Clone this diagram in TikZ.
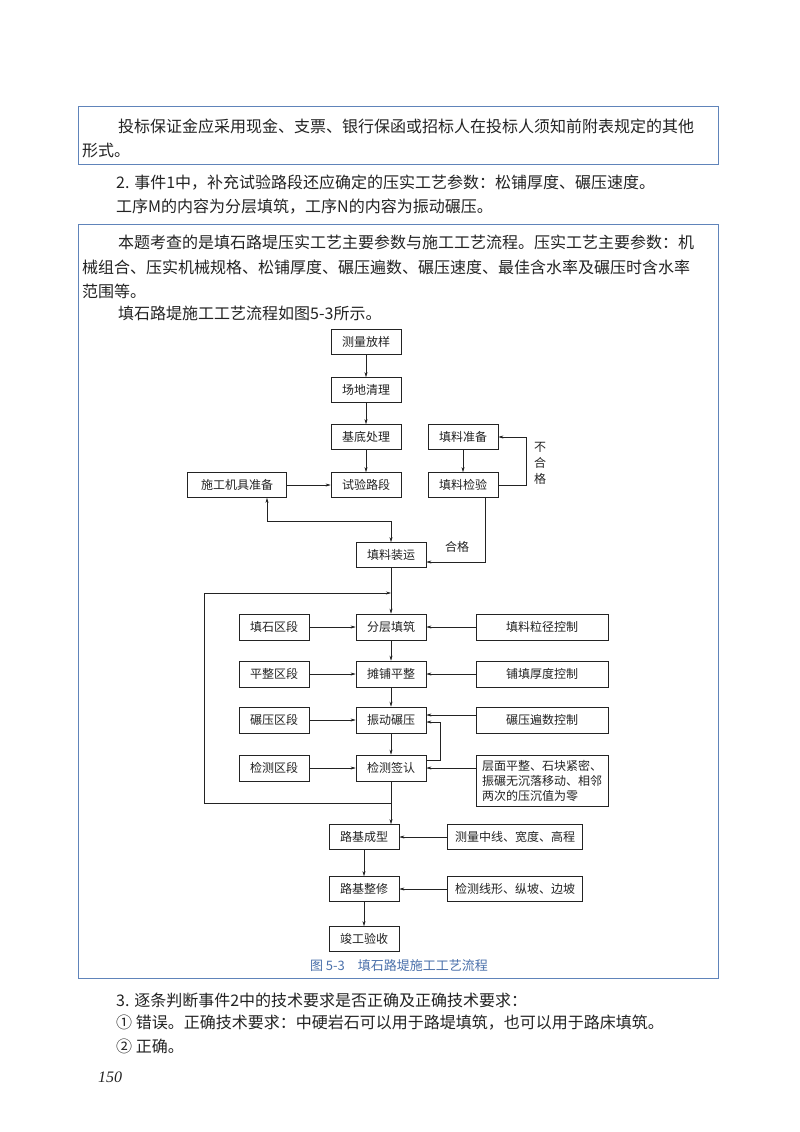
\documentclass[tikz,border=0pt]{standalone}
\usepackage{fontspec}
\setmainfont{Noto Sans CJK SC}
\newfontfamily\numfont{Liberation Serif}
\usetikzlibrary{arrows.meta}
\XeTeXlinebreaklocale "zh"
\XeTeXlinebreakskip = 0pt plus 2pt
\definecolor{frameblue}{RGB}{96,132,186}
\definecolor{capblue}{RGB}{74,112,170}
\definecolor{ink}{RGB}{35,35,35}
\newcommand{\jline}[2]{\makebox[#1][s]{#2}}

\begin{document}
\begin{tikzpicture}[
            x = 1pt, y = -1pt,
            textline/.style = {anchor = west, inner sep = 0pt, text = ink, font = \fontsize{16}{20}\selectfont},
            stepbox/.style = {draw = ink, line width = 0.7pt, minimum width = 70pt, minimum height = 25pt,
                              inner sep = 1pt, text = ink, font = \fontsize{12}{14}\selectfont},
            widebox/.style = {stepbox, minimum width = 132pt},
            flowarrow/.style = {draw = ink, line width = 0.5pt, -{Stealth[length = 5pt, width = 3pt]}},
            bluebox/.style = {draw = frameblue, line width = 0.9pt}
            ]
            \fill[white, use as bounding box] (0,0) rectangle (800,1132);
            % frames of the page
            \draw[bluebox] (78,106) rectangle (718,164);
            \draw[bluebox] (78,224) rectangle (718,978);
            % text of the page
            \node[textline] (t1) at (118,126) {\jline{594pt}{投标保证金应采用现金、支票、银行保函或招标人在投标人须知前附表规定的其他}};
            \node[textline] (t2) at (82,150) {形式。};
            \node[textline] (t3) at (116,183) {2. 事件1中，补充试验路段还应确定的压实工艺参数：松铺厚度、碾压速度。};
            \node[textline] (t4) at (116,207) {工序M的内容为分层填筑，工序N的内容为振动碾压。};
            \node[textline] (t5) at (118,242) {\jline{594pt}{本题考查的是填石路堤压实工艺主要参数与施工工艺流程。压实工艺主要参数：机}};
            \node[textline] (t6) at (82,267) {\jline{630pt}{械组合、压实机械规格、松铺厚度、碾压遍数、碾压速度、最佳含水率及碾压时含水率}};
            \node[textline] (t7) at (82,291) {范围等。};
            \node[textline] (t8) at (118,313) {填石路堤施工工艺流程如图5-3所示。};
            \node[textline] (b1) at (116,1000) {3. 逐条判断事件2中的技术要求是否正确及正确技术要求：};
            \node[textline] (b2) at (116,1023) {① 错误。正确技术要求：中硬岩石可以用于路堤填筑，也可以用于路床填筑。};
            \node[textline] (b3) at (116,1046) {② 正确。};
            \node[textline, font = \numfont\itshape\fontsize{16}{20}\selectfont] (pg) at (98,1077) {150};
            % upper part of the flow
            \node[stepbox] (clfy) at (366,342) {测量放样};
            \node[stepbox] (cdql) at (366,390) {场地清理};
            \node[stepbox] (jdcl) at (366,437) {基底处理};
            \node[stepbox] (syld) at (366,485) {试验路段};
            \node[stepbox, minimum width = 99pt] (jjzb) at (237,485) {施工机具准备};
            \node[stepbox] (tlzb) at (463,437) {填料准备};
            \node[stepbox] (tljy) at (463,485) {填料检验};
            \node[stepbox] (tlzy) at (391,555) {填料装运};
            \node[text = ink, align = center, font = \fontsize{12}{16}\selectfont] (bhg) at (540,463) {不\\合\\格};
            \node[text = ink, font = \fontsize{12}{14}\selectfont] (hg) at (457,547) {合格};
            \coordinate (fz) at (391,521);
            \draw[flowarrow] (clfy) -- (cdql);
            \draw[flowarrow] (cdql) -- (jdcl);
            \draw[flowarrow] (jdcl) -- (syld);
            \draw[flowarrow] (jjzb) -- (syld);
            \draw[flowarrow] (tlzb) -- (tljy);
            \draw[flowarrow] (tljy.east) -- ++(28,0) |- (tlzb.east);
            \draw[flowarrow] ([xshift = 22pt]tljy.south) |- ([yshift = -7pt]tlzy.east);
            \draw[flowarrow] (fz) -| ([xshift = 30pt]jjzb.south);
            \draw[flowarrow] (fz) -- (tlzy);
            % layered filling
            \node[stepbox, minimum height = 26pt] (fctz) at (391,627) {分层填筑};
            \node[stepbox, minimum height = 26pt] (tppz) at (391,674) {摊铺平整};
            \node[stepbox, minimum height = 26pt] (zdny) at (391,720) {振动碾压};
            \node[stepbox, minimum height = 26pt] (jcqr) at (391,768) {检测签认};
            \foreach \name/\txt/\y in {qd1/填石区段/627, qd2/平整区段/674, qd3/碾压区段/720, qd4/检测区段/768}
                \node[stepbox, minimum height = 26pt] (\name) at (274,\y) {\txt};
            \foreach \name/\txt/\y in {kz1/填料粒径控制/627, kz2/铺填厚度控制/674, kz3/碾压遍数控制/720}
                \node[widebox, minimum height = 26pt] (\name) at (542,\y) {\txt};
            \node[widebox, minimum height = 51pt, align = left, font = \fontsize{12}{15}\selectfont] (kz4) at (542,781)
                {层面平整、石块紧密、\\振碾无沉落移动、相邻\\两次的压沉值为零};
            \coordinate (hl) at (391,593);
            \coordinate (lpb) at (391,803);
            \coordinate (lpt) at (204,593);
            \draw[flowarrow] (tlzy) -- (fctz);
            \draw[flowarrow] (jcqr.south) -- (lpb) -| (lpt) -- (hl);
            \draw[flowarrow] (fctz) -- (tppz);
            \draw[flowarrow] (tppz) -- (zdny);
            \draw[flowarrow] (zdny) -- (jcqr);
            \foreach \a/\b in {qd1/fctz, qd2/tppz, qd3/zdny, qd4/jcqr}
                \draw[flowarrow] (\a) -- (\b);
            \draw[flowarrow] (kz1) -- (fctz);
            \draw[flowarrow] (kz2) -- (tppz);
            \draw[flowarrow] ([yshift = 5pt]kz3.west) -- ([yshift = 5pt]zdny.east);
            \draw[flowarrow] ([yshift = 8pt]jcqr.east) -- ++(14,0) |- ([yshift = -2pt]zdny.east);
            \draw[flowarrow] (kz4.west |- jcqr.east) -- (jcqr.east);
            % forming and acceptance
            \node[stepbox] (ljcx) at (364,837) {路基成型};
            \node[stepbox] (ljzx) at (364,889) {路基整修};
            \node[stepbox] (jgys) at (364,939) {竣工验收};
            \node[stepbox, minimum width = 135pt] (clzx) at (515,837) {测量中线、宽度、高程};
            \node[stepbox, minimum width = 135pt] (jcxx) at (515,889) {检测线形、纵坡、边坡};
            \draw[flowarrow] (lpb) -- (lpb |- ljcx.north);
            \draw[flowarrow] (ljcx) -- (ljzx);
            \draw[flowarrow] (ljzx) -- (jgys);
            \draw[flowarrow] (clzx) -- (ljcx);
            \draw[flowarrow] (jcxx) -- (ljzx);
            \node[text = capblue, font = \fontsize{13}{15}\selectfont] (cap) at (399,966) {图 5-3\quad 填石路堤施工工艺流程};
          \end{tikzpicture}
\end{document}
